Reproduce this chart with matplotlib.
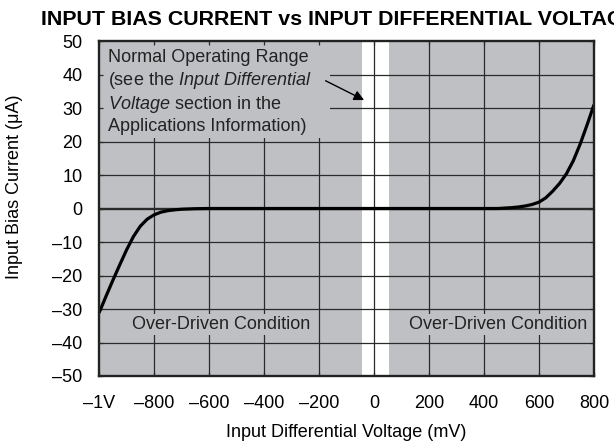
import matplotlib
matplotlib.use("Agg")
import matplotlib.pyplot as plt
from matplotlib.patches import Rectangle

plt.rcParams['font.family'] = ['Liberation Sans', 'DejaVu Sans']
plt.rcParams['mathtext.fontset'] = 'custom'
plt.rcParams['mathtext.rm'] = 'Liberation Sans'
plt.rcParams['mathtext.it'] = 'Liberation Sans:italic'

# curve (mV, uA)
left_mv = [-1000, -975, -950, -925, -900, -875, -850, -825, -800, -775, -750, -725, -700, -650, -600]
left_ua = [-31.2, -26.3, -21.5, -16.9, -12.4, -8.4, -5.3, -3.2, -1.9, -1.1, -0.65, -0.4, -0.22, -0.06, 0.0]
mid_mv = [-600, 450]
mid_ua = [0.0, 0.0]
right_mv = [450, 500, 525, 550, 575, 600, 625, 650, 675, 700, 725, 750, 775, 800]
right_ua = [0.0, 0.25, 0.45, 0.75, 1.2, 1.9, 3.2, 5.2, 7.5, 10.4, 14.3, 19.3, 25.0, 31.0]

xticks = [-1000, -800, -600, -400, -200, 0, 200, 400, 600, 800]
xticklabels = ['\u20131V', '\u2013800', '\u2013600', '\u2013400', '\u2013200', '0', '200', '400', '600', '800']
yticks = [50, 40, 30, 20, 10, 0, -10, -20, -30, -40, -50]
yticklabels = ['50', '40', '30', '20', '10', '0', '\u201310', '\u201320', '\u201330', '\u201340', '\u201350']

normal_band = [-45, 55]   # white strip, mV
note_box = [-1000, -160, 21, 50]   # area hidden by the note text

gray = '#bfc0c4'
gridc = '#2a2a2a'
fs = 13

fig = plt.figure(figsize=(6.14, 4.45), dpi=100)
ax = fig.add_axes([99/614, 1-376/445, 495/614, 335/445])
ax.set_facecolor(gray)
ax.set_xlim(-1000, 800)
ax.set_ylim(-50, 50)

ax.axvspan(normal_band[0], normal_band[1], color='white', lw=0, zorder=0.5)
for x in xticks[1:]:
    ax.axvline(x, color=gridc, lw=0.9, zorder=0.8)
for y in yticks[1:-1]:
    ax.axhline(y, color=gridc, lw=1.7 if y == 0 else 0.9, zorder=0.8)
ax.add_patch(Rectangle((note_box[0], note_box[2]), note_box[1]-note_box[0], note_box[3]-note_box[2],
                       facecolor=gray, edgecolor='none', zorder=1))

ax.plot(left_mv + mid_mv + right_mv, left_ua + mid_ua + right_ua, color='black', lw=2.3,
        solid_capstyle='butt', solid_joinstyle='round', zorder=2)

ax.set_xticks(xticks)
ax.set_xticklabels(xticklabels)
ax.set_yticks(yticks)
ax.set_yticklabels(yticklabels)
ax.tick_params(direction='in', length=3, width=0.9, color=gridc, top=True, right=True,
               labelsize=fs, colors='black')
ax.tick_params(axis='x', pad=14)
ax.tick_params(axis='y', pad=12)
for s in ax.spines.values():
    s.set_linewidth(1.7)
    s.set_color('#222222')

ax.text(-968, 47.5, 'Normal Operating Range\n(see the $\\mathit{Input\\ Differential}$\n'
        '$\\mathit{Voltage}$ section in the\nApplications Information)',
        fontsize=fs, va='top', ha='left', linespacing=1.22, color='#222222', zorder=3)
ax.annotate('', xy=(-27, 32), xytext=(-185, 38.5),
            arrowprops=dict(arrowstyle='-|>', color='black', lw=1.0, mutation_scale=15), zorder=3)

for xc in [-556, 450]:
    ax.text(xc, -34.6, 'Over-Driven Condition', fontsize=fs, ha='center', va='center',
            color='#222222', bbox=dict(facecolor=gray, edgecolor='none', pad=1.5), zorder=3)

# title runs off the right edge, as in the source picture
fig.text(41/614, 1-25/445, 'INPUT BIAS CURRENT vs INPUT DIFFERENTIAL VOLTAGE',
         fontsize=15.4, fontweight='bold', va='baseline', ha='left')
fig.text(15/614, 1-187/445, 'Input Bias Current (\u03bcA)', fontsize=fs, rotation=90,
         ha='center', va='center')
fig.text(346/614, 4/445, 'Input Differential Voltage (mV)', fontsize=fs, ha='center', va='bottom')

fig.savefig('out.png', dpi=100)
